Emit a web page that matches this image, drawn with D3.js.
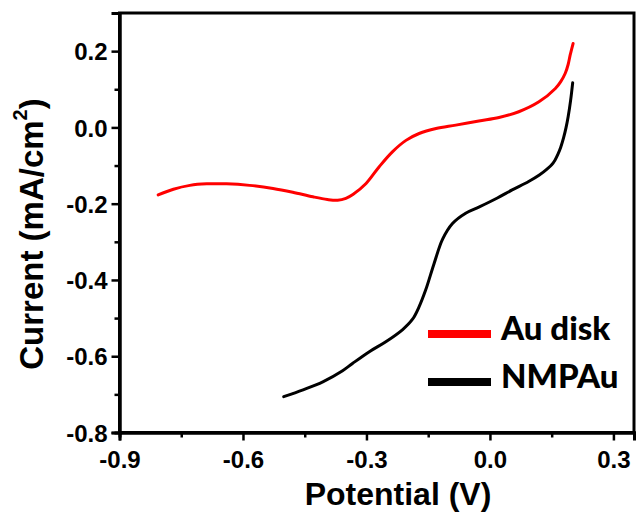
<!DOCTYPE html>
<html>
<head>
<meta charset="utf-8">
<script src="https://cdn.jsdelivr.net/npm/d3@7"></script>
<style>
  html, body { margin: 0; padding: 0; background: #fff; }
  svg { display: block; }
</style>
</head>
<body>
<svg id="chart" width="636" height="514"></svg>
<script>
// ---- Data ----
const auDiskPotential = [-0.806, -0.769, -0.729, -0.688, -0.640, -0.584, -0.527, -0.479, -0.430, -0.395, -0.370, -0.350, -0.333, -0.301, -0.269, -0.237, -0.204, -0.172, -0.131, -0.083, -0.027, 0.022, 0.070, 0.119, 0.159, 0.172, 0.183, 0.190, 0.195, 0.202];
const auDiskCurrent   = [-0.177, -0.162, -0.152, -0.148, -0.148, -0.152, -0.160, -0.170, -0.182, -0.189, -0.191, -0.186, -0.176, -0.147, -0.103, -0.064, -0.034, -0.016, -0.003, 0.006, 0.017, 0.026, 0.041, 0.067, 0.102, 0.120, 0.142, 0.165, 0.190, 0.220];

const nmpauPotential = [-0.501, -0.454, -0.406, -0.358, -0.334, -0.293, -0.253, -0.212, -0.188, -0.172, -0.156, -0.136, -0.115, -0.091, -0.059, -0.027, 0.018, 0.054, 0.094, 0.120, 0.140, 0.150, 0.158, 0.165, 0.172, 0.179, 0.185, 0.190, 0.196, 0.201];
const nmpauCurrent   = [-0.706, -0.688, -0.667, -0.638, -0.619, -0.588, -0.562, -0.530, -0.503, -0.470, -0.426, -0.358, -0.293, -0.252, -0.225, -0.209, -0.185, -0.164, -0.142, -0.125, -0.108, -0.098, -0.086, -0.071, -0.052, -0.027, 0.000, 0.028, 0.071, 0.117];

const seriesNames  = ["Au disk", "NMPAu"];
const seriesColors = ["#ff0000", "#000000"];

const xTicks = [-0.9, -0.6, -0.3, 0.0, 0.3];
const xMinorTicks = [-0.75, -0.45, -0.15, 0.15];
const yTicks = [0.2, 0.0, -0.2, -0.4, -0.6, -0.8];
const yMinorTicks = [0.1, -0.1, -0.3, -0.5, -0.7];

const xDomain = [-0.9, 0.35];
const yDomain = [-0.8, 0.3];

// ---- Layout ----
const svg = d3.select("#chart");
const plotLeft = 119.5, plotRight = 634, plotTop = 13, plotBottom = 432.5;

const x = d3.scaleLinear().domain(xDomain).range([plotLeft, plotRight]);
const y = d3.scaleLinear().domain(yDomain).range([plotBottom, plotTop]);

const tickFont = "'Liberation Sans', Arial, sans-serif";

// Plot frame
svg.append("rect")
  .attr("x", plotLeft).attr("y", plotTop)
  .attr("width", plotRight - plotLeft).attr("height", plotBottom - plotTop)
  .attr("fill", "none").attr("stroke", "#000").attr("stroke-width", 3);

// Axes
const fmt = d => d3.format(".1f")(d).replace("\u2212", "-");
const xAxis = d3.axisBottom(x).tickValues(xTicks).tickSize(8).tickPadding(6).tickFormat(fmt);
const yAxis = d3.axisLeft(y).tickValues(yTicks).tickSize(8).tickPadding(4).tickFormat(fmt);

const gx = svg.append("g").attr("transform", `translate(0,${plotBottom})`).call(xAxis);
const gy = svg.append("g").attr("transform", `translate(${plotLeft},0)`).call(yAxis);

svg.append("g").attr("transform", `translate(0,${plotBottom})`)
  .call(d3.axisBottom(x).tickValues(xMinorTicks).tickSize(5).tickFormat(""));
svg.append("g").attr("transform", `translate(${plotLeft},0)`)
  .call(d3.axisLeft(y).tickValues(yMinorTicks).tickSize(5).tickFormat(""));

svg.selectAll(".domain").attr("stroke", "#000").attr("stroke-width", 3);
svg.selectAll(".tick line").attr("stroke", "#000").attr("stroke-width", 2.5);
svg.selectAll(".tick text")
  .attr("font-family", tickFont).attr("font-weight", "bold")
  .attr("font-size", 24).attr("fill", "#000");
gy.selectAll(".tick text").attr("dy", "0.36em");
gx.selectAll(".tick text").attr("dy", "0.9em");

// Curves
const line = d3.line().curve(d3.curveCatmullRom.alpha(0.5))
  .x(d => x(d[0])).y(d => y(d[1]));

const series = [
  d3.zip(auDiskPotential, auDiskCurrent),
  d3.zip(nmpauPotential, nmpauCurrent)
];

svg.append("g").selectAll("path.curve")
  .data(series)
  .join("path")
  .attr("class", "curve")
  .attr("d", line)
  .attr("fill", "none")
  .attr("stroke", (d, i) => seriesColors[i])
  .attr("stroke-width", 3)
  .attr("stroke-linejoin", "round")
  .attr("stroke-linecap", "round");

// Axis titles
svg.append("text")
  .attr("x", 398).attr("y", 505)
  .attr("text-anchor", "middle")
  .attr("font-family", tickFont).attr("font-weight", "bold")
  .attr("font-size", 32).attr("fill", "#000")
  .text("Potential (V)");

const yl = svg.append("text")
  .attr("transform", "translate(43,234) rotate(-90)")
  .attr("text-anchor", "middle")
  .attr("font-family", tickFont).attr("font-weight", "bold")
  .attr("font-size", 33).attr("fill", "#000");
yl.append("tspan").text("Current (mA/cm");
yl.append("tspan").attr("font-size", 20).attr("dy", -16).text("2");
yl.append("tspan").attr("dy", 16).text(")");

// Legend
const legendY = [334, 382];
const lg = svg.append("g");
seriesNames.forEach((name, i) => {
  lg.append("line")
    .attr("x1", 428).attr("x2", 491)
    .attr("y1", legendY[i]).attr("y2", legendY[i])
    .attr("stroke", seriesColors[i]).attr("stroke-width", 8);
  lg.append("text")
    .attr("x", 501).attr("y", legendY[i] + 6)
    .attr("font-family", "Lato, 'Open Sans', sans-serif").attr("font-weight", 900)
    .attr("font-size", 33).attr("fill", "#000")
    .text(name);
});
</script>
</body>
</html>
